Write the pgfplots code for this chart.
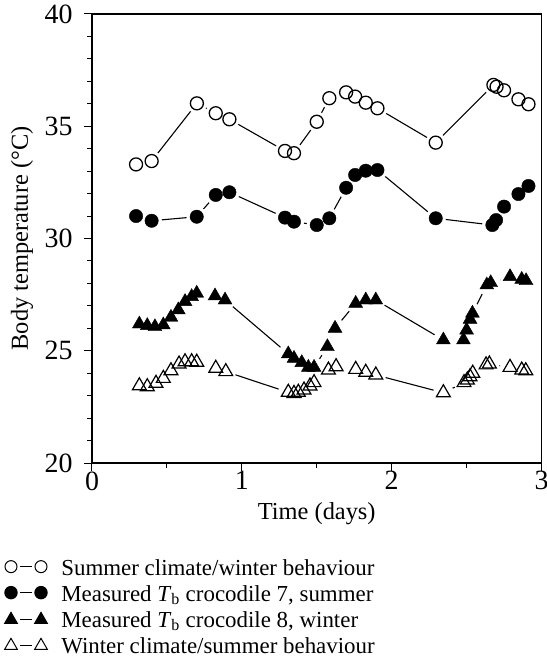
\documentclass[border=0pt]{standalone}
\usepackage{pgfplots}
\usepackage{pgfplotstable}
\pgfplotsset{compat=1.18}
\usepackage{fontspec}
\setmainfont{Liberation Serif}

\pgfplotsset{
  dashlegc/.style={legend image code/.code={\draw[##1, mark=none] (9bp,2.5bp) -- (21bp,2.5bp);
    \path[##1] plot[only marks] coordinates {(0bp,2.5bp) (30bp,2.5bp)};}},
  dashlegt/.style={legend image code/.code={\draw[##1, mark=none] (9bp,1.5bp) -- (21bp,1.5bp);
    \path[##1] plot[only marks] coordinates {(0bp,1.5bp) (30bp,1.5bp)};}},
}

\pgfplotstableread{
t T
0.294 33.30
0.398 33.45
0.700 36.02
0.826 35.58
0.917 35.31
1.288 33.90
1.348 33.80
1.500 35.20
1.584 36.25
1.696 36.51
1.756 36.32
1.827 36.05
1.905 35.80
2.294 34.27
2.679 36.84
2.700 36.76
2.750 36.60
2.846 36.20
2.913 35.98
}\oc

\pgfplotstableread{
t T
0.294 31.00
0.398 30.79
0.699 30.97
0.826 31.94
0.917 32.06
1.288 30.93
1.348 30.75
1.500 30.60
1.584 30.90
1.696 32.26
1.756 32.83
1.827 33.02
1.905 33.05
2.294 30.90
2.672 30.60
2.697 30.82
2.750 31.42
2.846 31.98
2.913 32.34
}\fc

\pgfplotstableread{
t T
0.316 26.19
0.369 26.12
0.420 26.07
0.476 26.15
0.527 26.49
0.576 26.82
0.621 27.19
0.665 27.41
0.699 27.56
0.821 27.44
0.888 27.26
1.310 24.86
1.348 24.66
1.400 24.47
1.444 24.26
1.482 24.26
1.571 25.18
1.622 26.00
1.760 27.11
1.827 27.26
1.894 27.26
2.345 25.48
2.479 25.48
2.500 25.92
2.523 26.40
2.539 26.67
2.635 27.93
2.661 28.03
2.790 28.30
2.868 28.18
2.897 28.12
}\ft

\pgfplotstableread{
t T
0.316 23.44
0.369 23.40
0.427 23.55
0.476 23.77
0.527 24.11
0.581 24.41
0.621 24.51
0.665 24.51
0.699 24.49
0.826 24.22
0.893 24.07
1.310 23.15
1.348 23.10
1.377 23.15
1.415 23.25
1.455 23.43
1.482 23.58
1.578 24.14
1.629 24.29
1.760 24.17
1.827 24.04
1.894 23.92
2.345 23.13
2.483 23.58
2.505 23.70
2.523 23.84
2.541 24.00
2.630 24.37
2.652 24.41
2.790 24.26
2.868 24.14
2.895 24.11
}\ot

\begin{document}
\begin{tikzpicture}
\path[use as bounding box] (-92bp,-207bp) rectangle (455bp,463bp);
\begin{axis}[
  at={(0,0)}, anchor=south west,
  scale only axis, width=449.5bp, height=449bp,
  xmin=0, xmax=3, ymin=20, ymax=40,
  xtick={0,1,2,3}, ytick={20,25,30,35,40},
  minor x tick num=1, minor y tick num=4,
  tick align=outside, xtick pos=left, ytick pos=left,
  major tick length=8bp, minor tick length=5bp,
  axis line style={line width=1.2bp, black},
  every tick/.style={line width=1bp, black},
  /pgf/number format/assume math mode=true,
  ticklabel style={font=\fontsize{28}{32}\selectfont},
  yticklabel style={xshift=-8bp},
  xticklabel style={yshift=3bp},
  label style={font=\fontsize{24.5}{29}\selectfont},
  xlabel={Time (days)},
  xlabel style={yshift=-5bp},
  ylabel={Body temperature (°C)},
  ylabel style={at={(axis description cs:-0.1557,0.5)}, anchor=center},
  legend style={at={(axis description cs:-0.1947,-0.207)}, anchor=north west,
    draw=none, fill=none, inner sep=0pt,
    font=\fontsize{23}{27}\selectfont,
    nodes={inner sep=2bp, text height=17bp, text depth=5bp}, row sep=0bp,
    /tikz/every odd column/.append style={column sep=12bp}},
  legend cell align=left,
]
% connecting lines
\addplot[black, line width=1.1bp, mark=none, forget plot] table[x=t,y=T] {\oc};
\addplot[black, line width=1.1bp, mark=none, forget plot] table[x=t,y=T] {\fc};
\addplot[black, line width=1.1bp, mark=none, forget plot] table[x=t,y=T] {\ft};
\addplot[black, line width=1.1bp, mark=none, forget plot] table[x=t,y=T] {\ot};
% white gaps around the symbols
\addplot[only marks, white, mark=*, mark size=10bp, forget plot] table[x=t,y=T] {\oc};
\addplot[only marks, white, mark=*, mark size=10bp, forget plot] table[x=t,y=T] {\fc};
\addplot[only marks, white, mark=*, mark size=10bp, forget plot] table[x=t,y=T] {\ft};
\addplot[only marks, white, mark=*, mark size=10bp, forget plot] table[x=t,y=T] {\ot};
% symbols
\addplot[only marks, black, mark=o, mark size=6.5bp, mark options={line width=1.3bp}, forget plot] table[x=t,y=T] {\oc};
\addplot[only marks, black, mark=*, mark size=6.7bp, forget plot] table[x=t,y=T] {\fc};
\addplot[only marks, black, mark=triangle*, mark size=8bp, forget plot] table[x=t,y=T] {\ft};
\addplot[only marks, black, mark=triangle, mark size=8bp, mark options={line width=1.2bp}, forget plot] table[x=t,y=T] {\ot};
% legend
\addlegendimage{black, line width=1bp, mark=o, mark size=6bp, mark options={line width=1bp}, dashlegc}
\addlegendentry{Summer climate/winter behaviour}
\addlegendimage{black, line width=1bp, mark=*, mark size=6.2bp, dashlegc}
\addlegendentry{Measured \textit{T}\textsubscript{b} crocodile 7, summer}
\addlegendimage{black, line width=1bp, mark=triangle*, mark size=7.3bp, dashlegt}
\addlegendentry{Measured \textit{T}\textsubscript{b} crocodile 8, winter}
\addlegendimage{black, line width=1bp, mark=triangle, mark size=7.3bp, mark options={line width=1bp}, dashlegt}
\addlegendentry{Winter climate/summer behaviour}
\end{axis}
\end{tikzpicture}
\end{document}
